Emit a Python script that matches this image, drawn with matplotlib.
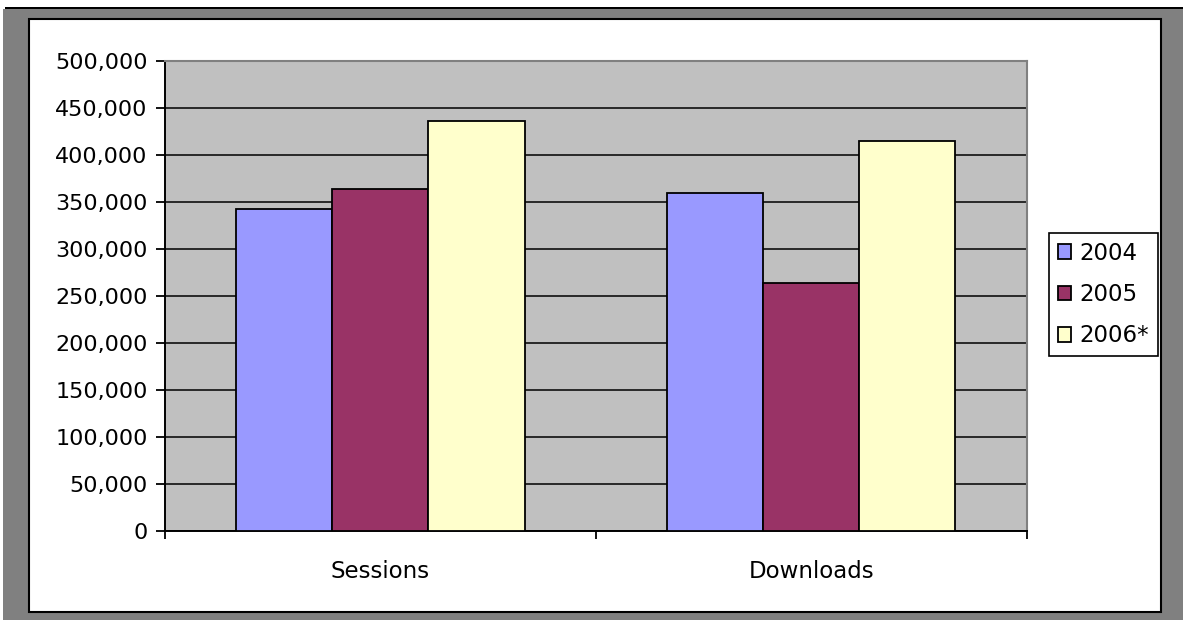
import numpy as np
import matplotlib
matplotlib.use("Agg")
import matplotlib.pyplot as plt
from matplotlib.patches import Rectangle
from matplotlib.ticker import FuncFormatter, FixedLocator

categories = ["Sessions", "Downloads"]
years = ["2004", "2005", "2006*"]
v2004 = [343000, 360000]
v2005 = [364000, 264000]
v2006 = [436000, 415000]
colors = ["#9999FF", "#993366", "#FFFFCC"]

W, H = 1183, 620
plt.rcParams["font.family"] = ["DejaVu Sans"]

fig = plt.figure(figsize=(W / 100, H / 100), dpi=100)
fig.patch.set_facecolor("white")

def px_rect(x0, y0, x1, y1, **kw):
    # pixel box (top-left origin) -> figure fraction
    return Rectangle((x0 / W, 1 - y1 / H), (x1 - x0) / W, (y1 - y0) / H,
                     transform=fig.transFigure, zorder=-10, **kw)

# frame around the chart
fig.patches.append(px_rect(5, 7, W, 9, facecolor="black", edgecolor="none"))
fig.patches.append(px_rect(3, 9, W, H, facecolor="#808080", edgecolor="none"))
fig.patches.append(px_rect(29, 19, 1161, 612, facecolor="white",
                           edgecolor="black", linewidth=1.5))

left, right, top, bottom = 165, 1026.7, 61, 531
ax = fig.add_axes([left / W, 1 - bottom / H, (right - left) / W, (bottom - top) / H])
ax.set_facecolor("#C0C0C0")

x = np.arange(len(categories)) + 0.5
bw = 0.223
for i, (vals, lab) in enumerate(zip([v2004, v2005, v2006], years)):
    ax.bar(x + (i - 1) * bw, vals, bw, color=colors[i], edgecolor="black",
           linewidth=1.3, label=lab, zorder=3)

ax.set_xlim(0, len(categories))
ax.set_ylim(0, 500000)
ax.set_yticks(np.arange(0, 500001, 50000))
ax.yaxis.set_major_formatter(FuncFormatter(lambda v, p: f"{int(v):,}"))
ax.yaxis.grid(True, color="black", linewidth=1.1)
ax.set_axisbelow(True)

ax.set_xticks([0, 1, 2])
ax.set_xticklabels([])
ax.xaxis.set_minor_locator(FixedLocator(x))
ax.set_xticks(x, minor=True)
ax.set_xticklabels(categories, minor=True, fontsize=16.5)
ax.tick_params(axis="x", which="minor", length=0, pad=21)
ax.tick_params(axis="x", which="major", length=6, width=1.3, direction="out", color="black")
ax.tick_params(axis="y", length=6.5, width=1.3, direction="out", labelsize=16, pad=6)

for s in ["left", "bottom"]:
    ax.spines[s].set_color("black")
    ax.spines[s].set_linewidth(1.4)
for s in ["right", "top"]:
    ax.spines[s].set_color("#808080")
    ax.spines[s].set_linewidth(1.5)

handles, labels = ax.get_legend_handles_labels()
leg = fig.legend(handles, labels, loc="upper left",
                 bbox_to_anchor=(1049 / W, 1 - 233 / H), borderaxespad=0,
                 fontsize=16.5, frameon=True, fancybox=False, shadow=False,
                 handlelength=0.6, handleheight=0.6, handletextpad=0.35,
                 labelspacing=0.8, borderpad=0.38)
leg.get_frame().set_edgecolor("black")
leg.get_frame().set_linewidth(1.2)
leg.get_frame().set_facecolor("white")
leg.get_frame().set_alpha(1)

fig.savefig("out.png", dpi=100)
